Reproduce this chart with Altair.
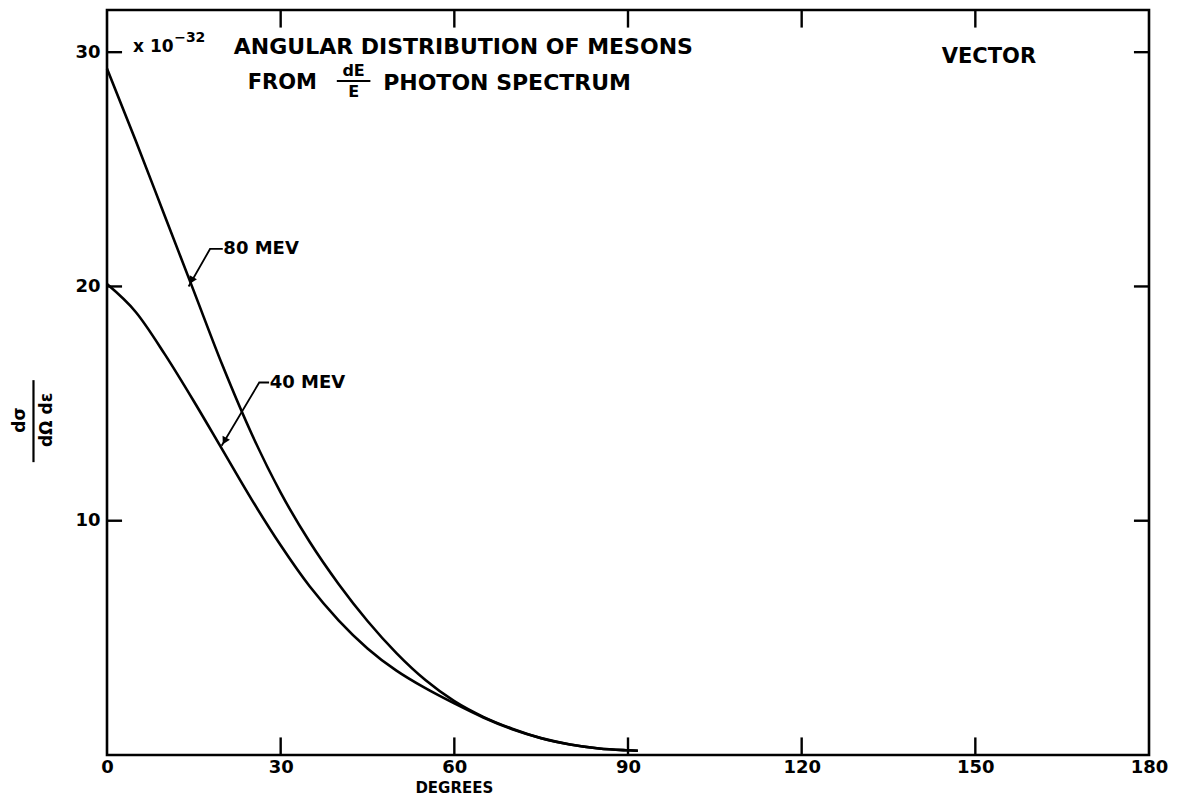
import altair as alt
import pandas as pd

# ---- data ----
deg80 = [0, 5, 10, 15, 20, 25, 30, 35, 40, 45, 50, 55, 60, 65, 70, 75, 80, 85, 90, 91.7]
val80 = [29.3, 26.2, 23.0, 19.8, 16.6, 13.7, 11.2, 9.1, 7.3, 5.72, 4.35, 3.2, 2.3, 1.63, 1.12, 0.72, 0.45, 0.28, 0.2, 0.18]
deg40 = [0, 5, 10, 15, 20, 25, 30, 35, 40, 45, 50, 55, 60, 65, 70, 75, 80, 85, 90, 91.7]
val40 = [20.1, 18.9, 17.1, 15.1, 13.0, 10.9, 8.95, 7.2, 5.75, 4.55, 3.6, 2.85, 2.2, 1.6, 1.1, 0.72, 0.45, 0.28, 0.2, 0.18]

x_ticks = [0, 30, 60, 90, 120, 150, 180]
y_ticks = [10, 20, 30]
XMAX, YMAX = 180, 31.8

FONT = "DejaVu Sans"

curves = pd.DataFrame(
    [{"deg": d, "val": v, "series": "80 MEV"} for d, v in zip(deg80, val80)]
    + [{"deg": d, "val": v, "series": "40 MEV"} for d, v in zip(deg40, val40)]
)

xs = alt.Scale(domain=[0, XMAX], nice=False, zero=False)
ys = alt.Scale(domain=[0, YMAX], nice=False, zero=False)

AX = alt.Axis(values=x_ticks, title=None, labelFontSize=18, labelFont=FONT,
              labelFontWeight="bold", labelColor="black", labelPadding=3,
              ticks=False, domain=False, grid=False, labelFlush=False)
AY = alt.Axis(values=y_ticks, title=None, labelFontSize=18, labelFont=FONT,
              labelFontWeight="bold", labelColor="black", labelPadding=7,
              ticks=False, domain=False, grid=False)


def X(f="deg"):
    return alt.X(f"{f}:Q", scale=xs, axis=AX)


def Y(f="val"):
    return alt.Y(f"{f}:Q", scale=ys, axis=AY)


lines = alt.Chart(curves).mark_line(color="black", strokeWidth=2.6, interpolate="monotone").encode(
    x=X(), y=Y(), detail="series:N"
)

# inward ticks
tk_len_x = 0.75   # value units (vertical ticks)
tk_len_y = 2.6    # degree units (horizontal ticks)
inner_x = [30, 60, 90, 120, 150]
vt = pd.DataFrame(
    [{"deg": d, "val": 0, "val2": tk_len_x} for d in inner_x]
    + [{"deg": d, "val": YMAX, "val2": YMAX - tk_len_x} for d in inner_x]
)
ht = pd.DataFrame(
    [{"deg": 0, "deg2": tk_len_y, "val": v} for v in y_ticks]
    + [{"deg": XMAX, "deg2": XMAX - tk_len_y, "val": v} for v in y_ticks]
)
vticks = alt.Chart(vt).mark_rule(color="black", strokeWidth=2.4).encode(
    x=X(), y=Y(), y2="val2:Q")
hticks = alt.Chart(ht).mark_rule(color="black", strokeWidth=2.4).encode(
    x=X(), x2="deg2:Q", y=Y())

# leaders with arrows
lead = pd.DataFrame([
    {"k": "a", "o": 0, "deg": 20.0, "val": 21.6},
    {"k": "a", "o": 1, "deg": 17.8, "val": 21.6},
    {"k": "a", "o": 2, "deg": 14.1, "val": 20.0},
    {"k": "b", "o": 0, "deg": 28.0, "val": 15.9},
    {"k": "b", "o": 1, "deg": 26.3, "val": 15.9},
    {"k": "b", "o": 2, "deg": 19.8, "val": 13.2},
])
leaders = alt.Chart(lead).mark_line(color="black", strokeWidth=1.8).encode(
    x=X(), y=Y(), detail="k:N", order="o:Q")
heads = alt.Chart(pd.DataFrame([
    {"deg": 14.7, "val": 20.3, "ang": 209},
    {"deg": 20.4, "val": 13.45, "ang": 208},
])).mark_point(shape="triangle", filled=True, color="black", size=70, opacity=1).encode(
    x=X(), y=Y(), angle=alt.Angle("ang:Q", scale=None))


def txt(rows, size, align="left", angle=0):
    return alt.Chart(pd.DataFrame(rows)).mark_text(
        font=FONT, fontWeight="bold", fontSize=size, color="black",
        align=align, baseline="middle", angle=angle,
    ).encode(x=X(), y=Y(), text="t:N")


texts = [
    txt([{"deg": 20.1, "val": 21.6, "t": "80 MEV"}, {"deg": 28.1, "val": 15.9, "t": "40 MEV"}], 18),
    txt([{"deg": 4.5, "val": 30.2, "t": "x 10"}], 17),
    txt([{"deg": 11.6, "val": 30.6, "t": "−32"}], 14),
    txt([{"deg": 21.9, "val": 30.2, "t": "ANGULAR DISTRIBUTION OF MESONS"}], 22),
    txt([{"deg": 24.3, "val": 28.7, "t": "FROM"}], 21),
    txt([{"deg": 42.6, "val": 29.2, "t": "dE"}, {"deg": 42.6, "val": 28.3, "t": "E"}], 16, align="center"),
    txt([{"deg": 47.7, "val": 28.7, "t": "PHOTON SPECTRUM"}], 22),
    txt([{"deg": 144.2, "val": 29.8, "t": "VECTOR"}], 21),
    txt([{"deg": 60, "val": -1.4, "t": "DEGREES"}], 15, align="center"),
    txt([{"deg": -15.0, "val": 14.3, "t": "dσ"}], 17, align="center", angle=270),
    txt([{"deg": -10.4, "val": 14.3, "t": "dΩ dε"}], 17, align="center", angle=270),
]
frac_bar = alt.Chart(pd.DataFrame([
    {"deg": 39.7, "deg2": 45.5, "val": 28.77},
])).mark_rule(color="black", strokeWidth=2.2).encode(x=X(), x2="deg2:Q", y=Y())
ylab_bar = alt.Chart(pd.DataFrame([
    {"deg": -12.7, "val": 12.5, "val2": 16.0},
])).mark_rule(color="black", strokeWidth=2.2).encode(x=X(), y=Y(), y2="val2:Q")

chart = alt.layer(lines, vticks, hticks, leaders, heads, frac_bar, ylab_bar, *texts).properties(
    width=1042, height=745,
    padding={"left": 99, "top": 2, "right": 20, "bottom": 50},
    autosize=alt.AutoSizeParams(type="none"),
    background="white",
).configure_view(stroke="black", strokeWidth=2.6)

chart.save("out.html", embed_options={"renderer": "svg", "actions": False})
